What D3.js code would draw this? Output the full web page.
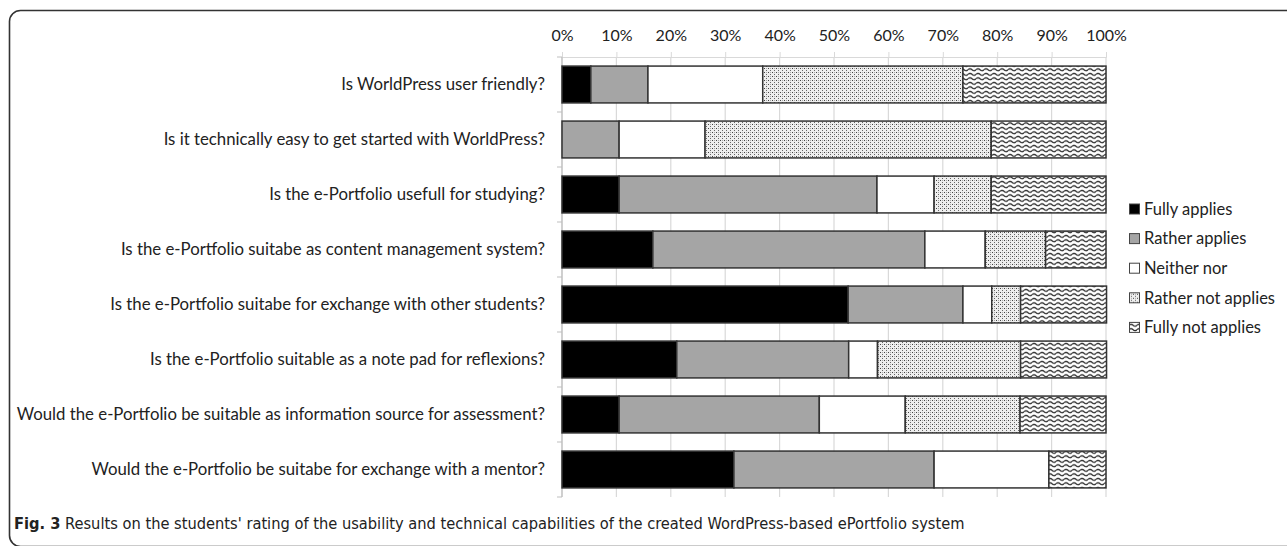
<!DOCTYPE html>
<html>
<head>
<meta charset="utf-8">
<script src="https://cdn.jsdelivr.net/npm/d3@7"></script>
<style>
  html, body { margin: 0; padding: 0; background: #fff; }
  svg { display: block; }
</style>
</head>
<body>
<svg id="chart" width="1287" height="546"></svg>
<script>
// questions, top to bottom
const questions = [
  'Is WorldPress user friendly?',
  'Is it technically easy to get started with WorldPress?',
  'Is the e-Portfolio usefull for studying?',
  'Is the e-Portfolio suitabe as content management system?',
  'Is the e-Portfolio suitabe for exchange with other students?',
  'Is the e-Portfolio suitable as a note pad for reflexions?',
  'Would the e-Portfolio be suitable as information source for assessment?',
  'Would the e-Portfolio be suitabe for exchange with a mentor?'
];

const answers = ['Fully applies', 'Rather applies', 'Neither nor', 'Rather not applies', 'Fully not applies'];

// share of answers per question, in %
const fullyApplies     = [5.3, 0.0, 10.5, 16.7, 52.6, 21.1, 10.5, 31.6];
const ratherApplies    = [10.5, 10.5, 47.4, 50.0, 21.1, 31.6, 36.8, 36.8];
const neitherNor       = [21.1, 15.8, 10.5, 11.1, 5.3, 5.3, 15.8, 21.1];
const ratherNotApplies = [36.8, 52.6, 10.5, 11.1, 5.3, 26.3, 21.1, 0.0];
const fullyNotApplies  = [26.3, 21.1, 21.1, 11.1, 15.8, 15.8, 15.8, 10.5];

const ticks = [0, 10, 20, 30, 40, 50, 60, 70, 80, 90, 100];

const rows = questions.map((q, i) => ({
  question: q,
  'Fully applies': fullyApplies[i],
  'Rather applies': ratherApplies[i],
  'Neither nor': neitherNor[i],
  'Rather not applies': ratherNotApplies[i],
  'Fully not applies': fullyNotApplies[i]
}));

const svg = d3.select('#chart');
const font = 'Lato, "Open Sans", sans-serif';

// patterns for the two "not" answers
const defs = svg.append('defs');
const dots = defs.append('pattern')
  .attr('id', 'pat-rather-not')
  .attr('patternUnits', 'userSpaceOnUse')
  .attr('width', 4).attr('height', 4);
dots.append('rect').attr('width', 4).attr('height', 4).attr('fill', '#eee');
dots.append('rect').attr('x', 0).attr('y', 0).attr('width', 1).attr('height', 1).attr('fill', '#444');
dots.append('rect').attr('x', 2).attr('y', 2).attr('width', 1).attr('height', 1).attr('fill', '#666');
dots.append('rect').attr('x', 2).attr('y', 0).attr('width', 1).attr('height', 1).attr('fill', '#aaa');

const wave = defs.append('pattern')
  .attr('id', 'pat-fully-not')
  .attr('patternUnits', 'userSpaceOnUse')
  .attr('width', 8).attr('height', 4.5);
wave.append('rect').attr('width', 8).attr('height', 4.5).attr('fill', '#fff');
wave.append('path')
  .attr('d', 'M0,2.3 Q2,0.3 4,2.3 T8,2.3')
  .attr('fill', 'none')
  .attr('stroke', '#222')
  .attr('stroke-width', 1.2);

const fills = {
  'Fully applies': '#000',
  'Rather applies': '#a5a5a5',
  'Neither nor': '#fff',
  'Rather not applies': 'url(#pat-rather-not)',
  'Fully not applies': 'url(#pat-fully-not)'
};

// frame
svg.append('rect')
  .attr('x', 9.5).attr('y', 10.5)
  .attr('width', 1400).attr('height', 536)
  .attr('rx', 11)
  .attr('fill', 'none')
  .attr('stroke', '#333')
  .attr('stroke-width', 1.6);

const plotLeft = 562, plotRight = 1106, plotTop = 57, plotBottom = 497;

const x = d3.scaleLinear().domain([0, 100]).range([plotLeft, plotRight]);
const pad = 0.33;
const y = d3.scaleBand()
  .domain(questions)
  .range([plotTop, plotBottom])
  .paddingInner(pad)
  .paddingOuter(pad / 2);

// gridlines + top axis
const xAxis = svg.append('g')
  .attr('transform', `translate(0,${plotTop})`)
  .call(d3.axisTop(x).tickValues(ticks).tickSize(5).tickFormat(d => d + '%'));
xAxis.select('.domain').attr('stroke', '#d9d9d9');
xAxis.selectAll('.tick line').attr('stroke', '#d9d9d9');
xAxis.selectAll('.tick text')
  .attr('y', -16)
  .attr('fill', '#222')
  .style('font-family', font)
  .style('font-size', '16px');

svg.append('g')
  .selectAll('line')
  .data(ticks)
  .join('line')
  .attr('x1', d => x(d)).attr('x2', d => x(d))
  .attr('y1', plotTop).attr('y2', plotBottom)
  .attr('stroke', '#d9d9d9')
  .attr('stroke-width', 1.2);

// left axis with ticks between categories
const step = y.step();
const boundaries = d3.range(questions.length + 1).map(i => plotTop + i * step);
svg.append('line')
  .attr('x1', plotLeft).attr('x2', plotLeft)
  .attr('y1', plotTop).attr('y2', plotBottom)
  .attr('stroke', '#bfbfbf')
  .attr('stroke-width', 1.2);
svg.append('g')
  .selectAll('line')
  .data(boundaries)
  .join('line')
  .attr('x1', plotLeft - 5).attr('x2', plotLeft)
  .attr('y1', d => d).attr('y2', d => d)
  .attr('stroke', '#bfbfbf');

// bars
const stack = d3.stack().keys(answers)(rows);
svg.append('g')
  .selectAll('g')
  .data(stack)
  .join('g')
  .attr('fill', d => fills[d.key])
  .selectAll('rect')
  .data(d => d.filter(s => s[1] - s[0] > 0))
  .join('rect')
  .attr('x', d => x(d[0]))
  .attr('y', d => y(d.data.question))
  .attr('width', d => x(d[1]) - x(d[0]))
  .attr('height', y.bandwidth())
  .attr('stroke', '#333')
  .attr('stroke-width', 1.5);

// category labels
svg.append('g')
  .selectAll('text')
  .data(questions)
  .join('text')
  .attr('x', 545)
  .attr('y', d => y(d) + y.bandwidth() / 2)
  .attr('dy', '0.35em')
  .attr('text-anchor', 'end')
  .attr('fill', '#222')
  .style('font-family', font)
  .style('font-size', '16.8px')
  .text(d => d);

// legend
const legend = svg.append('g')
  .selectAll('g')
  .data(answers)
  .join('g')
  .attr('transform', (d, i) => `translate(1129,${209 + i * 29.6})`);
legend.append('rect')
  .attr('x', 0.5).attr('y', -5)
  .attr('width', 10).attr('height', 10)
  .attr('fill', d => fills[d])
  .attr('stroke', '#444')
  .attr('stroke-width', 1);
legend.append('text')
  .attr('x', 15)
  .attr('dy', '0.35em')
  .attr('fill', '#222')
  .style('font-family', font)
  .style('font-size', '16.5px')
  .text(d => d);

// caption
const caption = svg.append('text')
  .attr('x', 14)
  .attr('y', 529)
  .attr('fill', '#222')
  .style('font-family', '"Liberation Sans Narrow", "DejaVu Sans Condensed", sans-serif')
  .style('font-size', '16.3px');
caption.append('tspan').style('font-weight', 'bold').text('Fig. 3');
caption.append('tspan').text(' Results on the students\' rating of the usability and technical capabilities of the created WordPress-based ePortfolio system');
</script>
</body>
</html>
